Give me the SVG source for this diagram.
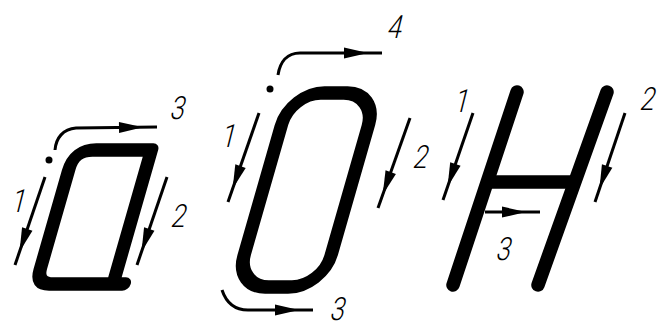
<svg xmlns="http://www.w3.org/2000/svg" width="660" height="329" viewBox="0 0 660 329">
<style>
.glyph{fill:none;stroke:#000;stroke-width:13.5;stroke-linecap:round;stroke-linejoin:round}
.arr{fill:none;stroke:#000;stroke-width:3;stroke-linecap:butt;marker-end:url(#ah)}
.num{font-family:Roboto,"Liberation Sans",sans-serif;font-weight:300;font-size:32px;fill:#000;text-anchor:middle}
</style>
<defs>
<marker id="ah" markerUnits="userSpaceOnUse" orient="auto" refX="0" refY="0" markerWidth="1" markerHeight="1" overflow="visible">
<path d="M -14,0 L -38,-5.5 L -38,5.5 Z" fill="#000"/>
</marker>
</defs>
<rect width="660" height="329" fill="#fff"/>
<g id="letter-a">
<path class="glyph" transform="translate(36,284) skewX(-16)" d="M 88,0 L 15,0 Q 0,0 0,-15 L 0,-114 Q 0,-134 20,-134 L 77,-134 L 77,0"/>
<circle cx="49" cy="160" r="3.5" fill="#000"/>
</g>
<g id="letter-o">
<rect class="glyph" transform="translate(235,287) skewX(-16)" x="0" y="-194" width="87" height="194" rx="32" ry="32"/>
<circle cx="270" cy="89" r="3.5" fill="#000"/>
</g>
<g id="letter-h">
<line class="glyph" x1="517" y1="92" x2="453" y2="285"/>
<line class="glyph" x1="607" y1="92" x2="538" y2="285"/>
<line class="glyph" style="stroke-linecap:butt" x1="487" y1="182" x2="575" y2="182"/>
</g>
<g id="connectors">
<path class="arr" d="M 45,177 L 15,265"/>
<path class="arr" d="M 167,177 L 137,265"/>
<path class="arr" d="M 55,150 C 56,138 63,129 76,128 L 157,127"/>
<path class="arr" d="M 259,113 L 228,202"/>
<path class="arr" d="M 410,118 L 378,208"/>
<path class="arr" d="M 278,75 C 280,62 287,53 300,53 L 382,53"/>
<path class="arr" d="M 222,290 C 226,302 234,310 248,310 L 313,310"/>
<path class="arr" d="M 473,113 L 443,200"/>
<path class="arr" d="M 625,113 L 595,202"/>
<path class="arr" d="M 485,212 L 540,212"/>
</g>
<g id="labels">
<text class="num" transform="translate(17,212) skewX(-14) scale(0.8,1)">1</text>
<text class="num" transform="translate(177,227) skewX(-14) scale(0.8,1)">2</text>
<text class="num" transform="translate(176,119) skewX(-14) scale(0.8,1)">3</text>
<text class="num" transform="translate(227,147) skewX(-14) scale(0.8,1)">1</text>
<text class="num" transform="translate(419,168) skewX(-14) scale(0.8,1)">2</text>
<text class="num" transform="translate(336,320) skewX(-14) scale(0.8,1)">3</text>
<text class="num" transform="translate(393,38) skewX(-14) scale(0.8,1)">4</text>
<text class="num" transform="translate(460,112) skewX(-14) scale(0.8,1)">1</text>
<text class="num" transform="translate(646,110) skewX(-14) scale(0.8,1)">2</text>
<text class="num" transform="translate(502,260) skewX(-14) scale(0.8,1)">3</text>
</g>
</svg>
